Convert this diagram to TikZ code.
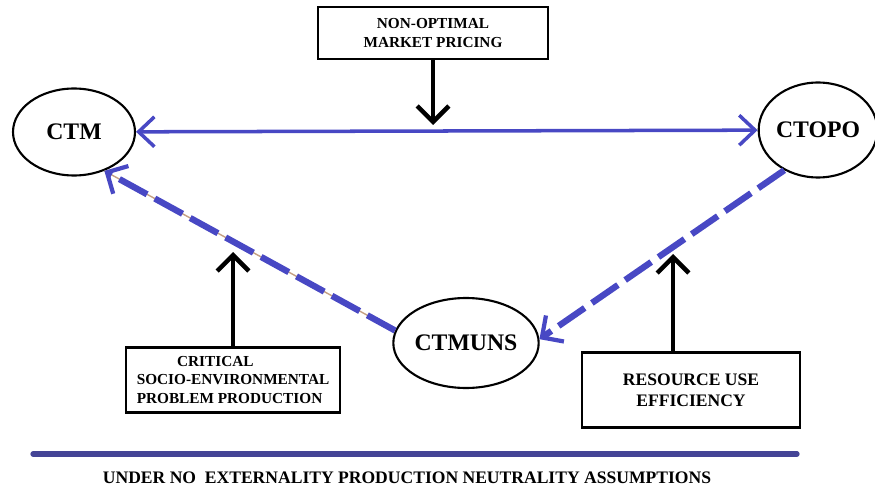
\documentclass[tikz,border=0pt]{standalone}
\usepackage{fontspec}
\setmainfont{Liberation Serif}
\usetikzlibrary{shapes.geometric,arrows.meta}
\definecolor{linkblue}{RGB}{72,72,196}
\definecolor{ruleblue}{RGB}{68,68,150}
\definecolor{trailtan}{RGB}{196,160,130}
\tikzset{
  oval/.style={ellipse,draw,line width=1.2pt,inner sep=0pt,font=\bfseries\fontsize{13.5}{15}\selectfont},
  box/.style={rectangle,draw,line width=1.6pt,inner sep=0pt,align=center,font=\bfseries\fontsize{8.7}{10.5}\selectfont},
  push/.style={line width=2.6pt,-{Straight Barb[length=9pt,width=18pt]}},
  link/.style={linkblue,line width=2pt,{Straight Barb[length=9pt,width=17pt]}-{Straight Barb[length=9pt,width=17pt]}},
  dlink/.style={linkblue,line width=3.6pt,dash pattern=on 18pt off 5pt,-{Straight Barb[length=9pt,width=18pt,line width=2.4pt]}},
  trail/.style={trailtan,line width=0.8pt},
  rule/.style={ruleblue,line width=3pt,line cap=round}
}
\begin{document}
\begin{tikzpicture}[x=0.02cm,y=-0.02cm]
  \useasboundingbox (0,0) rectangle (875,493);
  % the three states
  \node[oval,minimum width=2.44cm,minimum height=1.74cm] (ctm) at (74,132) {CTM};
  \node[oval,minimum width=2.24cm,minimum height=1.9cm] (ctopo) at (818,130) {CTOPO};
  \node[oval,minimum width=2.44cm,minimum height=1.8cm] (ctmuns) at (466,343) {CTMUNS};
  % the three causes
  \node[box,minimum width=4.6cm,minimum height=1.04cm] (pricing) at (433,33) {NON-OPTIMAL\\ MARKET PRICING};
  \node[box,minimum width=4.28cm,minimum height=1.3cm,align=left] (critical) at (233,380) {\hspace*{23pt}CRITICAL\\ SOCIO-ENVIRONMENTAL\\ PROBLEM PRODUCTION};
  \node[box,minimum width=4.36cm,minimum height=1.5cm,font=\bfseries\fontsize{10}{12}\selectfont] (resource) at (691,390) {RESOURCE USE\\ EFFICIENCY};
  % arrow ends
  \coordinate (pricetip) at (433,125);
  \coordinate (crittip) at (233,252);
  \coordinate (restip) at (673,254);
  \draw[push] (pricing) -- (pricetip);
  \draw[push] (critical) -- (crittip);
  \draw[push] (resource.north -| restip) -- (restip);
  % links between states
  \draw[link] (ctm) -- (ctopo);
  \draw[trail] (ctmuns.170) -- (ctm.-52);
  \draw[dlink] (ctmuns.170) -- (ctm.-52);
  \draw[dlink] (ctopo.230) -- (ctmuns.3);
  % bottom rule and note
  \coordinate (rulea) at (33,454);
  \coordinate (ruleb) at (797,454);
  \draw[rule] (rulea) -- (ruleb);
  \node[font=\bfseries\fontsize{10}{12}\selectfont] (assume) at (407,478) {UNDER NO\hspace{0.5em}EXTERNALITY PRODUCTION NEUTRALITY ASSUMPTIONS};
\end{tikzpicture}
\end{document}
